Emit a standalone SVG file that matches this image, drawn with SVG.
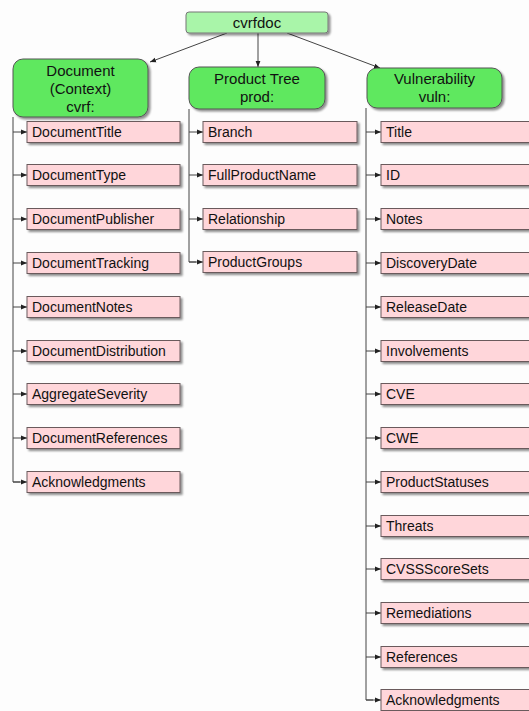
<svg xmlns="http://www.w3.org/2000/svg" width="529" height="711" viewBox="0 0 529 711">
<defs>
<marker id="ah" viewBox="0 0 10 10" refX="10" refY="5" markerWidth="6" markerHeight="6" markerUnits="userSpaceOnUse" orient="auto">
<path d="M0,1 L10,5 L0,9 z" fill="#222"/>
</marker>
<filter id="sh" x="-10%" y="-20%" width="130%" height="160%">
<feGaussianBlur in="SourceAlpha" stdDeviation="1"/>
<feOffset dx="1.5" dy="1.5" result="b"/>
<feComponentTransfer><feFuncA type="linear" slope="0.45"/></feComponentTransfer>
<feMerge><feMergeNode/><feMergeNode in="SourceGraphic"/></feMerge>
</filter>
</defs>
<style>
text{font-family:"Liberation Sans",Arial,sans-serif;font-size:14px;fill:#111}
.hd{text-anchor:middle;font-size:15px}
.root{fill:#a9f5a9;stroke:#777;stroke-width:1}
.grp{fill:#5fe85f;stroke:#555;stroke-width:1}
.item{fill:#ffd6da;stroke:#6b5a5c;stroke-width:1}
.ln{fill:none;stroke:#444;stroke-width:1}
.ar{fill:none;stroke:#444;stroke-width:1;marker-end:url(#ah)}
</style>
<rect width="529" height="711" fill="#fdfdfd"/>
<g id="connectors">
<path class="ar" d="M227,33 L150,62"/>
<path class="ar" d="M258,33 L258,67"/>
<path class="ar" d="M287,33 L380,68"/>
<path class="ln" d="M13,117 V482 H20"/>
<path class="ln" d="M189,109 V262 H196"/>
<path class="ln" d="M366,108 V700 H373"/>
<path class="ar" d="M13,132 H27"/><path class="ar" d="M13,175 H27"/><path class="ar" d="M13,219 H27"/><path class="ar" d="M13,263 H27"/><path class="ar" d="M13,307 H27"/><path class="ar" d="M13,351 H27"/><path class="ar" d="M13,394 H27"/><path class="ar" d="M13,438 H27"/><path class="ar" d="M13,482 H27"/>
<path class="ar" d="M189,132 H203"/><path class="ar" d="M189,175 H203"/><path class="ar" d="M189,219 H203"/><path class="ar" d="M189,262 H203"/>
<path class="ar" d="M366,132 H381"/><path class="ar" d="M366,175 H381"/><path class="ar" d="M366,219 H381"/><path class="ar" d="M366,263 H381"/><path class="ar" d="M366,307 H381"/><path class="ar" d="M366,351 H381"/><path class="ar" d="M366,394 H381"/><path class="ar" d="M366,438 H381"/><path class="ar" d="M366,482 H381"/><path class="ar" d="M366,526 H381"/><path class="ar" d="M366,569 H381"/><path class="ar" d="M366,613 H381"/><path class="ar" d="M366,657 H381"/><path class="ar" d="M366,700 H381"/>
</g>
<g id="cvrfdoc"><rect class="root" x="186" y="12" width="142" height="21" rx="3" filter="url(#sh)"/><text class="hd" x="257" y="28">cvrfdoc</text></g>
<g id="document"><rect class="grp" x="13" y="59" width="135" height="58" rx="10" filter="url(#sh)"/><text class="hd" x="80.5" y="76">Document</text><text class="hd" x="80.5" y="94">(Context)</text><text class="hd" x="80.5" y="112">cvrf:</text></g>
<g id="producttree"><rect class="grp" x="189" y="67" width="136" height="42" rx="10" filter="url(#sh)"/><text class="hd" x="257" y="84">Product Tree</text><text class="hd" x="257" y="102">prod:</text></g>
<g id="vulnerability"><rect class="grp" x="367" y="68" width="135" height="40" rx="10" filter="url(#sh)"/><text class="hd" x="434.5" y="84">Vulnerability</text><text class="hd" x="434.5" y="102">vuln:</text></g>
<g id="d1"><rect class="item" x="27" y="121.5" width="153" height="21" filter="url(#sh)"/><text x="32" y="137">DocumentTitle</text></g>
<g id="d2"><rect class="item" x="27" y="164.5" width="153" height="21" filter="url(#sh)"/><text x="32" y="180">DocumentType</text></g>
<g id="d3"><rect class="item" x="27" y="208.5" width="153" height="21" filter="url(#sh)"/><text x="32" y="224">DocumentPublisher</text></g>
<g id="d4"><rect class="item" x="27" y="252.5" width="153" height="21" filter="url(#sh)"/><text x="32" y="268">DocumentTracking</text></g>
<g id="d5"><rect class="item" x="27" y="296.5" width="153" height="21" filter="url(#sh)"/><text x="32" y="312">DocumentNotes</text></g>
<g id="d6"><rect class="item" x="27" y="340.5" width="153" height="21" filter="url(#sh)"/><text x="32" y="356">DocumentDistribution</text></g>
<g id="d7"><rect class="item" x="27" y="383.5" width="153" height="21" filter="url(#sh)"/><text x="32" y="399">AggregateSeverity</text></g>
<g id="d8"><rect class="item" x="27" y="427.5" width="153" height="21" filter="url(#sh)"/><text x="32" y="443">DocumentReferences</text></g>
<g id="d9"><rect class="item" x="27" y="471.5" width="153" height="21" filter="url(#sh)"/><text x="32" y="487">Acknowledgments</text></g>
<g id="p1"><rect class="item" x="203" y="121.5" width="154" height="21" filter="url(#sh)"/><text x="208" y="137">Branch</text></g>
<g id="p2"><rect class="item" x="203" y="164.5" width="154" height="21" filter="url(#sh)"/><text x="208" y="180">FullProductName</text></g>
<g id="p3"><rect class="item" x="203" y="208.5" width="154" height="21" filter="url(#sh)"/><text x="208" y="224">Relationship</text></g>
<g id="p4"><rect class="item" x="203" y="251.5" width="154" height="21" filter="url(#sh)"/><text x="208" y="267">ProductGroups</text></g>
<g id="v1"><rect class="item" x="381" y="121.5" width="160" height="21" filter="url(#sh)"/><text x="386" y="137">Title</text></g>
<g id="v2"><rect class="item" x="381" y="164.5" width="160" height="21" filter="url(#sh)"/><text x="386" y="180">ID</text></g>
<g id="v3"><rect class="item" x="381" y="208.5" width="160" height="21" filter="url(#sh)"/><text x="386" y="224">Notes</text></g>
<g id="v4"><rect class="item" x="381" y="252.5" width="160" height="21" filter="url(#sh)"/><text x="386" y="268">DiscoveryDate</text></g>
<g id="v5"><rect class="item" x="381" y="296.5" width="160" height="21" filter="url(#sh)"/><text x="386" y="312">ReleaseDate</text></g>
<g id="v6"><rect class="item" x="381" y="340.5" width="160" height="21" filter="url(#sh)"/><text x="386" y="356">Involvements</text></g>
<g id="v7"><rect class="item" x="381" y="383.5" width="160" height="21" filter="url(#sh)"/><text x="386" y="399">CVE</text></g>
<g id="v8"><rect class="item" x="381" y="427.5" width="160" height="21" filter="url(#sh)"/><text x="386" y="443">CWE</text></g>
<g id="v9"><rect class="item" x="381" y="471.5" width="160" height="21" filter="url(#sh)"/><text x="386" y="487">ProductStatuses</text></g>
<g id="v10"><rect class="item" x="381" y="515.5" width="160" height="21" filter="url(#sh)"/><text x="386" y="531">Threats</text></g>
<g id="v11"><rect class="item" x="381" y="558.5" width="160" height="21" filter="url(#sh)"/><text x="386" y="574">CVSSScoreSets</text></g>
<g id="v12"><rect class="item" x="381" y="602.5" width="160" height="21" filter="url(#sh)"/><text x="386" y="618">Remediations</text></g>
<g id="v13"><rect class="item" x="381" y="646.5" width="160" height="21" filter="url(#sh)"/><text x="386" y="662">References</text></g>
<g id="v14"><rect class="item" x="381" y="689.5" width="160" height="21" filter="url(#sh)"/><text x="386" y="705">Acknowledgments</text></g>
</svg>
